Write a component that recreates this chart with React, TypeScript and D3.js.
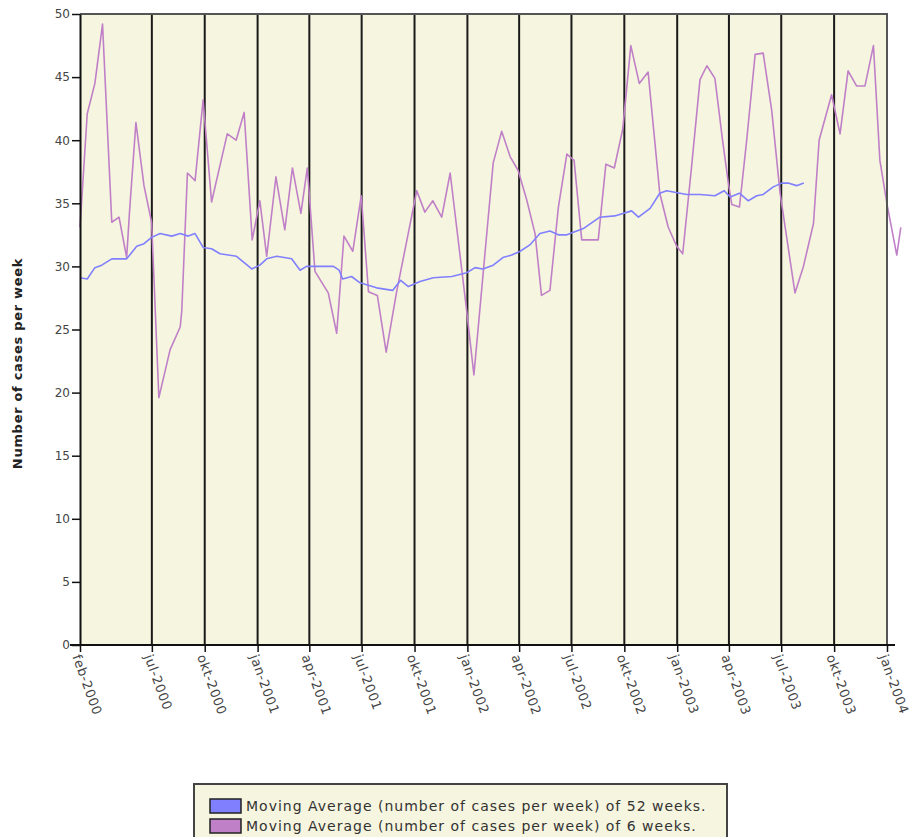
import { useEffect, useRef } from "react";
import * as d3 from "d3";

// ---- data ----
const startDate = new Date(2000, 1, 27);
const endDate = new Date(2004, 0, 1);

const tickDates = [
  new Date(2000, 1, 27),
  new Date(2000, 6, 1),
  new Date(2000, 9, 1),
  new Date(2001, 0, 1),
  new Date(2001, 3, 1),
  new Date(2001, 6, 1),
  new Date(2001, 9, 1),
  new Date(2002, 0, 1),
  new Date(2002, 3, 1),
  new Date(2002, 6, 1),
  new Date(2002, 9, 1),
  new Date(2003, 0, 1),
  new Date(2003, 3, 1),
  new Date(2003, 6, 1),
  new Date(2003, 9, 1),
  new Date(2004, 0, 1),
];
const monthNames = ["jan", "feb", "mar", "apr", "mai", "jun", "jul", "aug", "sep", "okt", "nov", "des"];
const yTicks = [0, 5, 10, 15, 20, 25, 30, 35, 40, 45, 50];

// weeks since start / values, 52-week moving average
const ma52Weeks = [
  0, 1.8, 3.7, 5.4, 7.9, 11.6, 14.1, 15.9, 17.8, 19.9, 22.8, 24.9, 26.9, 28.6, 30.6, 32.7, 34.8, 38.9,
  42.7, 44.7, 46.4, 48.9, 52.6, 54.7, 56.3, 63.0, 64.4, 65.3, 67.5, 69.6, 73.7, 77.7, 79.7, 81.6, 84.5,
  87.8, 92.4, 96.1, 98.2, 100.1, 102.7, 105.1, 107.3, 109.4, 111.8, 114.3, 116.8, 118.9, 121.0, 125.1,
  129.2, 132.9, 137.1, 138.8, 141.7, 144.1, 145.8, 150.8, 154.1, 157.8, 160.1, 161.6, 163.9, 166.1,
  168.2, 169.8, 172.3, 174.4, 176.0, 178.1, 179.9,
];
const ma52Values = [
  29.1, 29.0, 29.9, 30.1, 30.6, 30.6, 31.6, 31.8, 32.3, 32.6, 32.4, 32.6, 32.4, 32.6, 31.5, 31.4, 31.0, 30.8,
  29.8, 30.1, 30.6, 30.8, 30.6, 29.7, 30.0, 30.0, 29.7, 29.0, 29.2, 28.7, 28.3, 28.1, 28.9, 28.4, 28.8,
  29.1, 29.2, 29.5, 29.9, 29.8, 30.1, 30.7, 30.9, 31.2, 31.7, 32.6, 32.8, 32.5, 32.5, 33.0,
  33.9, 34.0, 34.4, 33.9, 34.6, 35.8, 36.0, 35.7, 35.7, 35.6, 36.0, 35.5, 35.8, 35.2,
  35.6, 35.7, 36.3, 36.6, 36.6, 36.4, 36.6,
];

// weeks since start / values, 6-week moving average
const ma6Weeks = [
  0, 1.8, 3.7, 5.6, 7.9, 9.7, 11.6, 12.3, 13.9, 15.9, 17.8, 19.6, 22.4, 24.9, 25.3, 26.7, 28.6, 30.6,
  32.7, 36.6, 38.8, 40.8, 42.8, 44.7, 46.4, 48.7, 50.9, 52.8, 54.9, 56.5, 58.4, 61.7, 63.8, 65.6, 67.8,
  69.9, 71.7, 73.9, 76.1, 78.7, 83.7, 85.7, 87.7, 89.9, 92.0, 96.1, 97.9, 102.7, 104.8, 106.9, 108.9,
  111.0, 113.1, 114.7, 116.8, 118.9, 121.0, 122.8, 124.7, 128.8, 130.7, 132.8, 134.9, 136.9, 139.0,
  141.2, 144.1, 146.2, 148.3, 149.8, 152.0, 154.1, 155.8, 157.8, 159.7, 161.1, 162.0, 163.9, 165.7,
  167.8, 169.8, 171.9, 174.0, 177.7, 179.8, 182.3, 183.7, 186.8, 188.9, 190.9, 193.0, 195.1, 197.2,
  198.8, 200.6, 203.0, 204.0,
];
const ma6Values = [
  33.1, 42.1, 44.5, 49.2, 33.5, 33.9, 30.7, 34.3, 41.4, 36.4, 33.5, 19.6, 23.4, 25.2, 26.5, 37.4, 36.8, 43.2,
  35.1, 40.5, 40.0, 42.2, 32.1, 35.2, 30.8, 37.1, 32.9, 37.8, 34.2, 37.8, 29.6, 27.9, 24.7, 32.4, 31.2,
  35.6, 28.0, 27.7, 23.2, 28.0, 36.0, 34.3, 35.2, 33.9, 37.4, 26.5, 21.4, 38.2, 40.7, 38.7, 37.6,
  35.3, 32.6, 27.7, 28.1, 34.7, 38.9, 38.4, 32.1, 32.1, 38.1, 37.8, 40.9, 47.5, 44.5,
  45.4, 35.8, 33.1, 31.6, 31.0, 37.9, 44.8, 45.9, 44.9, 40.0, 36.7, 34.9, 34.7, 40.0,
  46.8, 46.9, 42.4, 35.8, 27.9, 30.0, 33.4, 40.0, 43.6, 40.5, 45.5, 44.3, 44.3, 47.5,
  38.4, 34.9, 30.9, 33.1,
];

const seriesNames = [
  "Moving Average (number of cases per week) of 52 weeks.",
  "Moving Average (number of cases per week) of 6 weeks.",
];
const seriesColors = ["#8080ff", "#c080c8"];

const FONT = "'DejaVu Sans', Verdana, sans-serif";
const BG = "#f6f5df";

const weekToDate = (w: number) => new Date(startDate.getTime() + w * 7 * 864e5);

export default function App() {
  const ref = useRef<SVGSVGElement>(null);

  useEffect(() => {
    const el = ref.current;
    if (!el) return;
    const svg = d3.select(el);
    svg.selectAll("*").remove();

    const x = d3.scaleTime().domain([startDate, endDate]).range([80, 887]);
    const y = d3.scaleLinear().domain([0, 50]).range([645, 14]);
    const [x0, x1] = x.range();
    const [yb, yt] = y.range();

    // plot background
    svg
      .append("rect")
      .attr("x", x0)
      .attr("y", yt)
      .attr("width", x1 - x0)
      .attr("height", yb - yt)
      .attr("fill", BG);

    // vertical grid lines at the inner ticks
    svg
      .append("g")
      .selectAll("line")
      .data(tickDates.slice(1, -1))
      .join("line")
      .attr("x1", (d) => x(d))
      .attr("x2", (d) => x(d))
      .attr("y1", yt)
      .attr("y2", yb)
      .attr("stroke", "#1a1a1a")
      .attr("stroke-width", 2);

    const line = d3
      .line<[number, number]>()
      .x((d) => x(weekToDate(d[0])))
      .y((d) => y(d[1]));

    const series = [
      d3.zip(ma52Weeks, ma52Values) as [number, number][],
      d3.zip(ma6Weeks, ma6Values) as [number, number][],
    ];

    // 6-week drawn under the 52-week one
    [1, 0].forEach((i) => {
      svg
        .append("path")
        .datum(series[i])
        .attr("d", line)
        .attr("fill", "none")
        .attr("stroke", seriesColors[i])
        .attr("stroke-width", 1.6)
        .attr("stroke-linejoin", "round");
    });

    // frame (top + right)
    svg
      .append("path")
      .attr("d", `M${x0},${yt}H${x1}V${yb}`)
      .attr("fill", "none")
      .attr("stroke", "#555")
      .attr("stroke-width", 2);

    // y axis
    const yAxis = svg
      .append("g")
      .attr("transform", `translate(${x0},0)`)
      .call(d3.axisLeft(y).tickValues(yTicks).tickSize(8).tickPadding(2).tickSizeOuter(0));
    yAxis.select(".domain").attr("stroke", "#111").attr("stroke-width", 2);
    yAxis.selectAll(".tick line").attr("stroke", "#111").attr("stroke-width", 1.5);
    yAxis
      .selectAll("text")
      .attr("font-family", FONT)
      .attr("font-size", 12)
      .attr("fill", "#444");

    // x axis
    const xAxis = svg
      .append("g")
      .attr("transform", `translate(0,${yb})`)
      .call(
        d3
          .axisBottom(x)
          .tickValues(tickDates)
          .tickSize(7)
          .tickSizeOuter(0)
          .tickFormat((d) => {
            const dt = d as Date;
            return `${monthNames[dt.getMonth()]}-${dt.getFullYear()}`;
          })
      );
    xAxis
      .select(".domain")
      .attr("d", `M${x0 - 10},0H${x1 + 8}`)
      .attr("stroke", "#111")
      .attr("stroke-width", 2);
    xAxis.selectAll(".tick line").attr("stroke", "#111").attr("stroke-width", 1.5);
    xAxis
      .selectAll("text")
      .attr("x", 0)
      .attr("y", 0)
      .attr("dy", "0.35em")
      .attr("text-anchor", "start")
      .attr("transform", "translate(-4,10) rotate(70)")
      .attr("font-family", FONT)
      .attr("font-size", 13)
      .attr("letter-spacing", 0.6)
      .attr("fill", "#444");

    // y title
    svg
      .append("text")
      .attr("transform", `translate(17,${(yt + yb) / 2 + 34}) rotate(-90)`)
      .attr("text-anchor", "middle")
      .attr("dy", "0.35em")
      .attr("font-family", FONT)
      .attr("font-size", 13)
      .attr("font-weight", "bold")
      .attr("letter-spacing", 0.7)
      .attr("fill", "#222")
      .text("Number of cases per week");

    // legend
    const legend = svg.append("g").attr("transform", "translate(194,784)");
    legend
      .append("rect")
      .attr("x", 0)
      .attr("y", 0)
      .attr("width", 533)
      .attr("height", 90)
      .attr("fill", BG)
      .attr("stroke", "#444")
      .attr("stroke-width", 2);
    seriesNames.forEach((name, i) => {
      const row = legend.append("g").attr("transform", `translate(16,${15 + i * 20})`);
      row
        .append("rect")
        .attr("width", 31)
        .attr("height", 14)
        .attr("fill", seriesColors[i])
        .attr("stroke", "#222")
        .attr("stroke-width", 1.5);
      row
        .append("text")
        .attr("x", 36)
        .attr("y", 7)
        .attr("dy", "0.35em")
        .attr("font-family", FONT)
        .attr("font-size", 14)
        .attr("letter-spacing", 1)
        .attr("fill", "#333")
        .text(name);
    });
  }, []);

  return (
    <svg
      ref={ref}
      width={911}
      height={837}
      style={{ position: "absolute", left: 0, top: 0, background: "#fff" }}
    />
  );
}
